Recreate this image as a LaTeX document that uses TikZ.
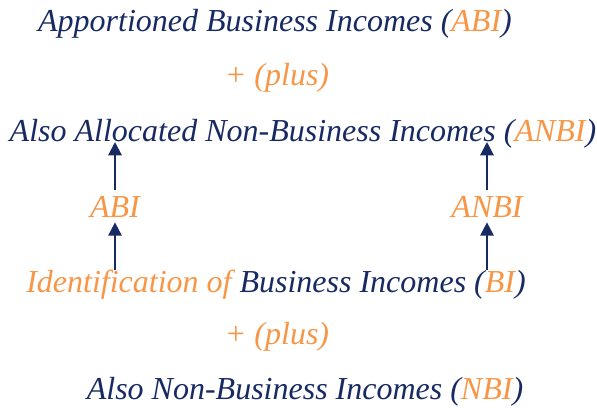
\documentclass[tikz,border=0pt]{standalone}
\usepackage{fontspec}
\setmainfont{Liberation Serif}
\usetikzlibrary{arrows.meta}
\definecolor{navy}{RGB}{24,42,98}
\definecolor{peach}{RGB}{247,150,70}
\newcommand{\hl}[1]{\textcolor{peach}{#1}}
\begin{document}
\begin{tikzpicture}[x=0.75pt,y=-0.75pt,
  txt/.style={anchor=base,inner sep=0pt,font=\fontsize{24}{28}\selectfont\itshape,text=navy},
  up/.style={draw=navy,line width=1.5pt,-{Triangle[width=10pt,length=10pt]}}]
\useasboundingbox (0,0) rectangle (597,413);
\node [txt] (t) at (275,32) {Apportioned Business Incomes (\hl{ABI})};
\node [txt,text=peach] (p) at (277,86) {+ (plus)};
\node [txt] (s) at (303,142) {Also Allocated Non-Business Incomes (\hl{ANBI})};
\node [txt,text=peach] (a) at (115,218) {ABI};
\node [txt,text=peach] (n) at (487,218) {ANBI};
\node [txt] (i) at (276,293) {\hl{Identification of} Business Incomes (\hl{BI})};
\node [txt,text=peach] (q) at (277,345) {+ (plus)};
\node [txt] (b) at (305,400) {Also Non-Business Incomes (\hl{NBI})};
% arrows
\draw [up,shorten <=5pt] (a.north) -- (a |- s.base);
\draw [up,shorten <=5pt] (n.north) -- (n |- s.base);
\draw [up,shorten >=3pt] (a |- i.north) -- (a.south);
\draw [up,shorten >=3pt] (n |- i.north) -- (n.south);
\end{tikzpicture}
\end{document}
